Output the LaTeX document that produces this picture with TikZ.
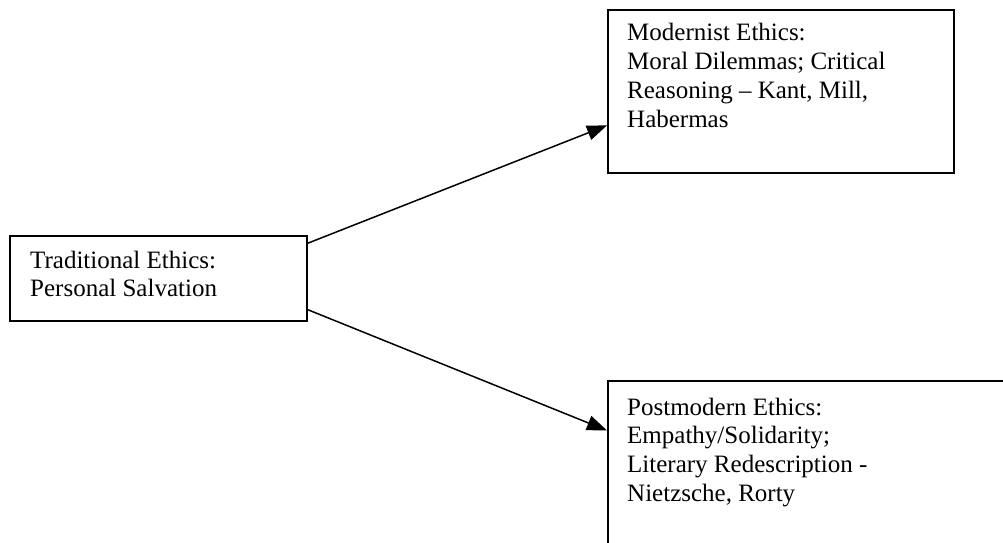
\documentclass[tikz,border=0pt]{standalone}
\usepackage{fontspec}
\setmainfont{Liberation Serif}
\usetikzlibrary{arrows.meta,calc}
\begin{document}
\begin{tikzpicture}[x=1pt,y=-1pt,
  box/.style={draw, line width=1.9pt, rectangle, inner sep=0pt, anchor=north west},
  txt/.style={anchor=base west, inner sep=0pt, font=\fontsize{25}{28.8}\selectfont},
  conn/.style={line width=1.5pt, -{Triangle[length=20pt,width=15pt]}}]
\useasboundingbox (0,0) rectangle (1003,542);
\clip (0,0) rectangle (1003,542);
\node[box, minimum width=297pt, minimum height=85pt] (trad) at (9,235) {};
\node[box, minimum width=346pt, minimum height=163pt] (modern) at (607,9) {};
\node[box, minimum width=420pt, minimum height=190pt] (post) at (607,380) {};
\node[txt] (tradtxt) at (30,268) {\parbox[t]{280pt}{\raggedright Traditional Ethics:\\Personal Salvation}};
\node[txt] (moderntxt) at (627,40.7) {\parbox[t]{320pt}{\raggedright Modernist Ethics:\\Moral Dilemmas; Critical\\Reasoning – Kant, Mill,\\Habermas}};
\node[txt] (posttxt) at (627,415) {\parbox[t]{360pt}{\raggedright Postmodern Ethics:\\Empathy/Solidarity;\\Literary Redescription -\\Nietzsche, Rorty}};
\draw[conn] ($(trad.north east)!0.094!(trad.south east)$) -- ($(modern.north west)!0.706!(modern.south west)$);
\draw[conn] ($(trad.north east)!0.86!(trad.south east)$) -- ($(post.north west)!0.263!(post.south west)$);
\end{tikzpicture}
\end{document}
